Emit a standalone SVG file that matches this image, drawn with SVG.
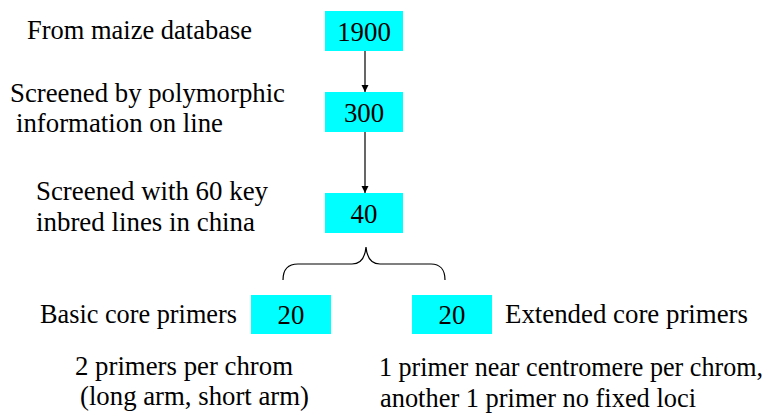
<svg xmlns="http://www.w3.org/2000/svg" width="771" height="415" viewBox="0 0 771 415">
<style>
.t{font-family:'Liberation Serif','Times New Roman',Times,'DejaVu Serif',serif;font-size:26.8px;fill:#000}
.num{text-anchor:middle}
.box{fill:#00ffff}
.conn{stroke:#000;stroke-width:1.2;fill:none}
</style>
<defs>
<marker id="arr" viewBox="0 0 10 10" refX="10" refY="5" markerWidth="7" markerHeight="8" markerUnits="userSpaceOnUse" orient="auto">
<path d="M0,0 L10,5 L0,10 z" fill="#000"/>
</marker>
</defs>
<rect width="771" height="415" fill="#fff"/>
<g id="label-from">
<text class="t" x="27" y="39" textLength="225" lengthAdjust="spacingAndGlyphs">From maize database</text>
</g>
<g id="label-screened1">
<text class="t" x="10" y="102" textLength="275" lengthAdjust="spacingAndGlyphs">Screened by polymorphic</text>
<text class="t" x="16" y="132" textLength="207" lengthAdjust="spacingAndGlyphs">information on line</text>
</g>
<g id="label-screened2">
<text class="t" x="36" y="200" textLength="232" lengthAdjust="spacingAndGlyphs">Screened with 60 key</text>
<text class="t" x="36" y="231" textLength="219" lengthAdjust="spacingAndGlyphs">inbred lines in china</text>
</g>
<g id="node-1900">
<rect class="box" x="325" y="11" width="78" height="40"/>
<text class="t num" x="364" y="41">1900</text>
</g>
<g id="node-300">
<rect class="box" x="325" y="92" width="78" height="40"/>
<text class="t num" x="364" y="122">300</text>
</g>
<g id="node-40">
<rect class="box" x="325" y="193" width="78" height="40"/>
<text class="t num" x="364" y="223">40</text>
</g>
<g id="node-basic">
<rect class="box" x="251" y="295" width="80" height="39"/>
<text class="t num" x="291" y="324">20</text>
<text class="t" x="40" y="323" textLength="197" lengthAdjust="spacingAndGlyphs">Basic core primers</text>
</g>
<g id="node-extended">
<rect class="box" x="412" y="295" width="80" height="39"/>
<text class="t num" x="452" y="324">20</text>
<text class="t" x="505" y="323" textLength="243" lengthAdjust="spacingAndGlyphs">Extended core primers</text>
</g>
<g id="note-basic">
<text class="t" x="75" y="375" textLength="218" lengthAdjust="spacingAndGlyphs">2 primers per chrom</text>
<text class="t" x="80" y="405" textLength="229" lengthAdjust="spacingAndGlyphs">(long arm, short arm)</text>
</g>
<g id="note-extended">
<text class="t" x="379" y="376" textLength="384" lengthAdjust="spacingAndGlyphs">1 primer near centromere per chrom,</text>
<text class="t" x="380" y="407" textLength="316" lengthAdjust="spacingAndGlyphs">another 1 primer no fixed loci</text>
</g>
<g id="connectors">
<line class="conn" x1="365" y1="51" x2="365" y2="92" marker-end="url(#arr)"/>
<line class="conn" x1="365" y1="132" x2="365" y2="193" marker-end="url(#arr)"/>
<path class="conn" d="M283,280 C283,270 288,264 298,264 L352,264 C360,264 365,258 366,247 C367,258 372,264 380,264 L431,264 C440,264 445,270 445,280"/>
</g>
</svg>
